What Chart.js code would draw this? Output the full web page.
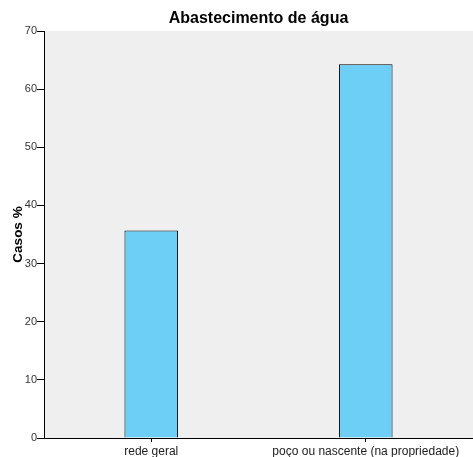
<!DOCTYPE html>
<html>
<head>
<meta charset="utf-8">
<script src="https://cdn.jsdelivr.net/npm/chart.js@4.4.0/dist/chart.umd.min.js"></script>
<style>
  html, body { margin: 0; padding: 0; background: #fff; }
  #wrap { width: 473px; height: 457px; }
</style>
</head>
<body>
<div id="wrap"><canvas id="chart" width="473" height="457"></canvas></div>
<script>
// Abastecimento de água - % de casos
const categories = ['rede geral', 'poço ou nascente (na propriedade)'];
const casosPct = [35.7, 64.3];
const yTicks = [0, 10, 20, 30, 40, 50, 60, 70];

// grey plot background
const plotBg = {
    id: 'plotBg',
    beforeDraw(chart) {
        const { ctx, chartArea: a } = chart;
        ctx.save();
        ctx.fillStyle = '#efefef';
        ctx.fillRect(a.left, a.top, a.right - a.left, a.bottom - a.top);
        ctx.restore();
    }
};

const fam = 'Arial, "Liberation Sans", sans-serif';

new Chart(document.getElementById('chart'), {
    type: 'bar',
    data: {
        labels: categories,
        datasets: [{
            data: casosPct,
            backgroundColor: '#6dcff6',
            borderColor: '#000',
            borderWidth: 1,
            barPercentage: 0.25,
            categoryPercentage: 1
        }]
    },
    options: {
        responsive: false,
        animation: false,
        layout: { padding: 0 },
        plugins: {
            legend: { display: false },
            tooltip: { enabled: false },
            title: {
                display: true,
                fullSize: false,
                text: 'Abastecimento de água',
                color: '#000',
                font: { family: fam, size: 16, weight: 'bold' },
                padding: { top: 9, bottom: 2.8 }
            }
        },
        scales: {
            x: {
                grid: { drawOnChartArea: false, offset: false, tickLength: 4, color: '#000' },
                border: { color: '#000', width: 1 },
                ticks: { color: '#222', font: { family: fam, size: 12 }, padding: 2, maxRotation: 0 },
                afterFit(scale) { scale.height = 19; }
            },
            y: {
                min: 0,
                max: 70,
                afterBuildTicks(scale) { scale.ticks = yTicks.map(v => ({ value: v })); },
                grid: { drawOnChartArea: false, tickLength: 7, color: '#000' },
                border: { color: '#000', width: 1 },
                ticks: { color: '#333', font: { family: fam, size: 11 }, padding: 0 },
                title: {
                    display: true,
                    text: 'Casos %',
                    color: '#000',
                    font: { family: fam, size: 13.5, weight: 'bold' },
                    padding: { top: 10, bottom: 0 }
                },
                afterFit(scale) { scale.width = 44; }
            }
        }
    },
    plugins: [plotBg]
});
</script>
</body>
</html>
